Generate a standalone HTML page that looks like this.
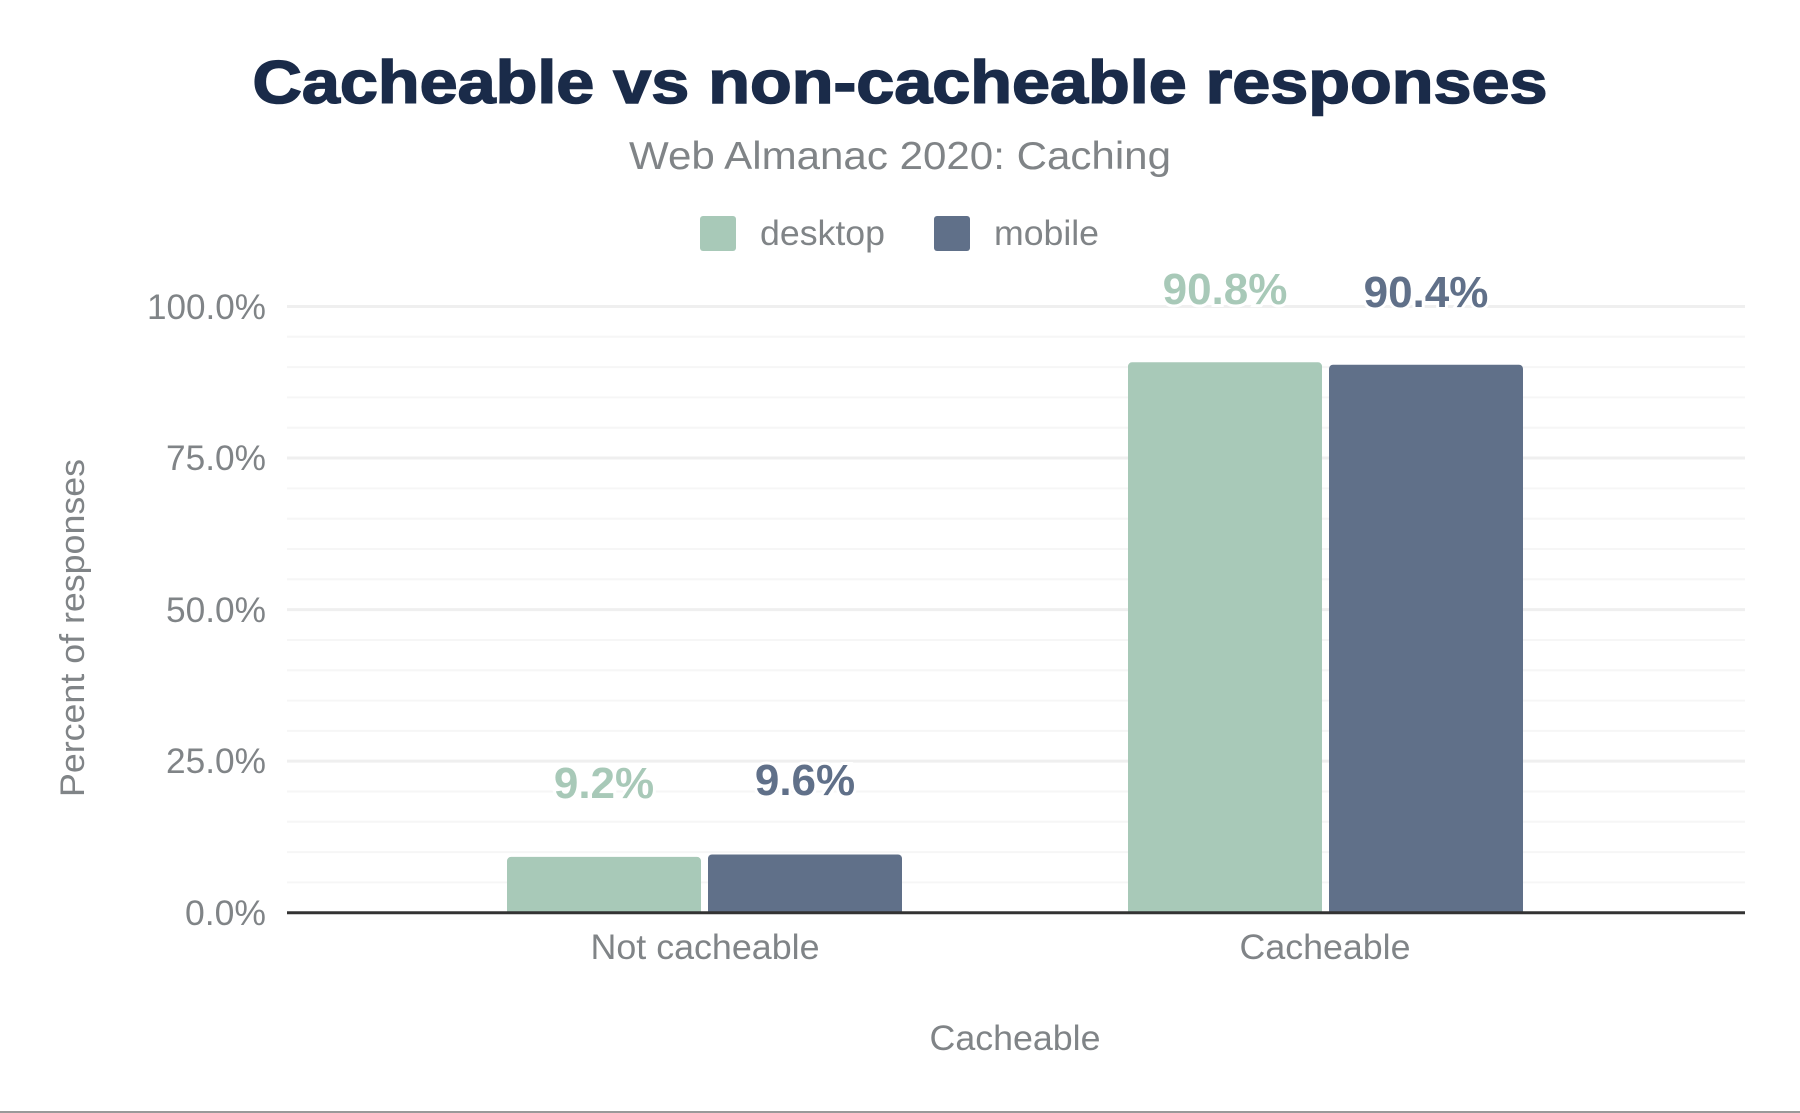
<!DOCTYPE html>
<html><head><meta charset="utf-8"><style>
html,body{margin:0;padding:0;background:#fff;}
svg{display:block;}
text{font-family:"Liberation Sans",sans-serif;}
</style></head><body>
<svg width="1800" height="1113" viewBox="0 0 1800 1113" xmlns="http://www.w3.org/2000/svg">
<rect width="1800" height="1113" fill="#fff"/>
<text x="900" y="103" text-anchor="middle" font-size="60" font-weight="900" fill="#1a2b49" textLength="1295" lengthAdjust="spacingAndGlyphs" stroke="#1a2b49" stroke-width="1.5">Cacheable vs non-cacheable responses</text>
<text x="900" y="169" text-anchor="middle" font-size="39" fill="#808487" textLength="542" lengthAdjust="spacingAndGlyphs">Web Almanac 2020: Caching</text>
<rect x="700" y="216" width="36" height="35" rx="3" fill="#a8c9b8"/>
<text x="760" y="245" font-size="35" fill="#808487" textLength="125" lengthAdjust="spacingAndGlyphs">desktop</text>
<rect x="934" y="216" width="36" height="35" rx="3" fill="#607089"/>
<text x="994" y="245" font-size="35" fill="#808487" textLength="105" lengthAdjust="spacingAndGlyphs">mobile</text>
<g stroke="#f6f6f6" stroke-width="2">
<line x1="287" x2="1745" y1="336.8" y2="336.8"/><line x1="287" x2="1745" y1="367.1" y2="367.1"/><line x1="287" x2="1745" y1="397.4" y2="397.4"/><line x1="287" x2="1745" y1="427.7" y2="427.7"/>
<line x1="287" x2="1745" y1="488.4" y2="488.4"/><line x1="287" x2="1745" y1="518.7" y2="518.7"/><line x1="287" x2="1745" y1="549" y2="549"/><line x1="287" x2="1745" y1="579.3" y2="579.3"/>
<line x1="287" x2="1745" y1="640" y2="640"/><line x1="287" x2="1745" y1="670.3" y2="670.3"/><line x1="287" x2="1745" y1="700.6" y2="700.6"/><line x1="287" x2="1745" y1="730.9" y2="730.9"/>
<line x1="287" x2="1745" y1="791.5" y2="791.5"/><line x1="287" x2="1745" y1="821.8" y2="821.8"/><line x1="287" x2="1745" y1="852.1" y2="852.1"/><line x1="287" x2="1745" y1="882.4" y2="882.4"/>
</g>
<g stroke="#efefef" stroke-width="3">
<line x1="287" x2="1745" y1="306.5" y2="306.5"/><line x1="287" x2="1745" y1="458" y2="458"/><line x1="287" x2="1745" y1="609.6" y2="609.6"/><line x1="287" x2="1745" y1="761.1" y2="761.1"/>
</g>
<g font-size="35" fill="#808487" text-anchor="end">
<text x="266" y="319" textLength="119" lengthAdjust="spacingAndGlyphs">100.0%</text><text x="266" y="470" textLength="100" lengthAdjust="spacingAndGlyphs">75.0%</text><text x="266" y="622" textLength="100" lengthAdjust="spacingAndGlyphs">50.0%</text><text x="266" y="773" textLength="100" lengthAdjust="spacingAndGlyphs">25.0%</text><text x="266" y="925" textLength="81" lengthAdjust="spacingAndGlyphs">0.0%</text>
</g>
<rect x="507" y="856.9" width="194" height="60" rx="4" fill="#a8c9b8"/>
<rect x="708" y="854.5" width="194" height="62" rx="4" fill="#607089"/>
<rect x="1128" y="362.3" width="194" height="555" rx="4" fill="#a8c9b8"/>
<rect x="1329" y="364.7" width="194" height="553" rx="4" fill="#607089"/>
<rect x="280" y="912.7" width="1470" height="10" fill="#fff"/>
<line x1="287" x2="1745" y1="912.7" y2="912.7" stroke="#333" stroke-width="3"/>
<g font-size="44" font-weight="bold" text-anchor="middle" stroke="#fff" stroke-width="6" paint-order="stroke">
<text x="604" y="798" fill="#a8c9b8">9.2%</text>
<text x="805" y="795" fill="#607089">9.6%</text>
<text x="1225" y="304" fill="#a8c9b8">90.8%</text>
<text x="1426" y="307" fill="#607089">90.4%</text>
</g>
<text x="705" y="959" font-size="35" fill="#808487" text-anchor="middle" textLength="229" lengthAdjust="spacingAndGlyphs">Not cacheable</text>
<text x="1325" y="959" font-size="35" fill="#808487" text-anchor="middle" textLength="171" lengthAdjust="spacingAndGlyphs">Cacheable</text>
<text x="1015" y="1050" font-size="35" fill="#808487" text-anchor="middle" textLength="171" lengthAdjust="spacingAndGlyphs">Cacheable</text>
<text transform="translate(84,628) rotate(-90)" font-size="34" fill="#808487" text-anchor="middle" textLength="338" lengthAdjust="spacingAndGlyphs">Percent of responses</text>
<line x1="0" x2="1800" y1="1112" y2="1112" stroke="#999" stroke-width="2"/>
</svg>
</body></html>
